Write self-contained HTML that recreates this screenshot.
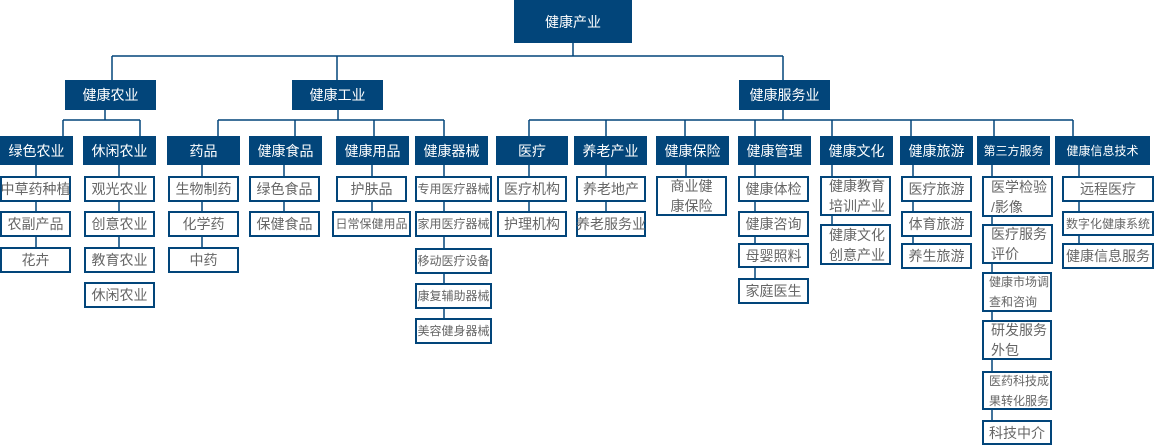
<!DOCTYPE html>
<html><head><meta charset="utf-8">
<style>
html,body{margin:0;padding:0;background:#fff;}
body{width:1155px;height:446px;position:relative;overflow:hidden;font-family:"Liberation Sans","Noto Sans CJK SC","WenQuanYi Zen Hei",sans-serif;}
svg{position:absolute;left:0;top:0;}
.b{position:absolute;background:#02457a;color:#fff;display:flex;align-items:center;justify-content:center;font-size:14px;white-space:nowrap;box-sizing:border-box;}
.w{position:absolute;border:2px solid #02457a;background:#fff;color:#666;display:flex;align-items:center;justify-content:center;font-size:14px;white-space:nowrap;box-sizing:border-box;line-height:20px;}
.w2{justify-content:flex-start;padding-left:7px;white-space:nowrap;text-align:left;}
.c{justify-content:center;text-align:center;white-space:nowrap;}
.s{font-size:12px;}
.w2.s{padding-left:5px;}
</style></head><body>
<svg width="1155" height="446" viewBox="0 0 1155 446">
<g stroke="#02457a" stroke-width="1.5" fill="none">
<line x1="573" y1="43" x2="573" y2="56"/>
<line x1="112" y1="56" x2="783" y2="56"/>
<line x1="112" y1="56" x2="112" y2="80"/>
<line x1="337" y1="56" x2="337" y2="80"/>
<line x1="783" y1="56" x2="783" y2="80"/>
<line x1="105" y1="110" x2="105" y2="120"/>
<line x1="63" y1="120" x2="140" y2="120"/>
<line x1="63" y1="120" x2="63" y2="136"/>
<line x1="140" y1="120" x2="140" y2="136"/>
<line x1="338" y1="110" x2="338" y2="120"/>
<line x1="218" y1="120" x2="444" y2="120"/>
<line x1="218" y1="120" x2="218" y2="136"/>
<line x1="295" y1="120" x2="295" y2="136"/>
<line x1="374" y1="120" x2="374" y2="136"/>
<line x1="444" y1="120" x2="444" y2="136"/>
<line x1="783" y1="110" x2="783" y2="120"/>
<line x1="529" y1="120" x2="1073" y2="120"/>
<line x1="529" y1="120" x2="529" y2="136"/>
<line x1="606" y1="120" x2="606" y2="136"/>
<line x1="685" y1="120" x2="685" y2="136"/>
<line x1="755" y1="120" x2="755" y2="136"/>
<line x1="832" y1="120" x2="832" y2="136"/>
<line x1="911" y1="120" x2="911" y2="136"/>
<line x1="994" y1="120" x2="994" y2="136"/>
<line x1="1073" y1="120" x2="1073" y2="136"/>
<line x1="36" y1="165" x2="36" y2="247"/>
<line x1="119" y1="165" x2="119" y2="247"/>
<line x1="202" y1="165" x2="202" y2="247"/>
<line x1="284" y1="165" x2="284" y2="211"/>
<line x1="372" y1="165" x2="372" y2="211"/>
<line x1="444" y1="165" x2="444" y2="318"/>
<line x1="529" y1="165" x2="529" y2="211"/>
<line x1="606" y1="165" x2="606" y2="211"/>
<line x1="686" y1="165" x2="686" y2="176"/>
<line x1="755" y1="165" x2="755" y2="278"/>
<line x1="832" y1="165" x2="832" y2="224"/>
<line x1="913" y1="165" x2="913" y2="243"/>
<line x1="992" y1="165" x2="992" y2="420"/>
<line x1="1079" y1="165" x2="1079" y2="243"/>
</g>
</svg>

<!-- level 1 -->
<div class="b" style="left:514px;top:0;width:118px;height:43px;">健康产业</div>

<!-- level 2 -->
<div class="b" style="left:65px;top:80px;width:91px;height:30px;">健康农业</div>
<div class="b" style="left:292px;top:80px;width:91px;height:30px;">健康工业</div>
<div class="b" style="left:739px;top:80px;width:91px;height:30px;">健康服务业</div>

<!-- level 3 -->
<div class="b" style="left:0;top:136px;width:73px;height:29px;">绿色农业</div>
<div class="b" style="left:83px;top:136px;width:73px;height:29px;">休闲农业</div>
<div class="b" style="left:167px;top:136px;width:73px;height:29px;">药品</div>
<div class="b" style="left:249px;top:136px;width:73px;height:29px;">健康食品</div>
<div class="b" style="left:336px;top:136px;width:73px;height:29px;">健康用品</div>
<div class="b" style="left:415px;top:136px;width:73px;height:29px;">健康器械</div>
<div class="b" style="left:496px;top:136px;width:72px;height:29px;">医疗</div>
<div class="b" style="left:574px;top:136px;width:73px;height:29px;">养老产业</div>
<div class="b" style="left:656px;top:136px;width:73px;height:29px;">健康保险</div>
<div class="b" style="left:738px;top:136px;width:73px;height:29px;">健康管理</div>
<div class="b" style="left:820px;top:136px;width:73px;height:29px;">健康文化</div>
<div class="b" style="left:900px;top:136px;width:73px;height:29px;">健康旅游</div>
<div class="b s" style="left:977px;top:136px;width:73px;height:29px;">第三方服务</div>
<div class="b s" style="left:1055px;top:136px;width:95px;height:29px;">健康信息技术</div>

<!-- level 4 : 绿色农业 -->
<div class="w" style="left:0;top:176px;width:71px;height:26px;">中草药种植</div>
<div class="w" style="left:0;top:211px;width:71px;height:26px;">农副产品</div>
<div class="w" style="left:0;top:247px;width:71px;height:26px;">花卉</div>
<!-- 休闲农业 -->
<div class="w" style="left:84px;top:176px;width:71px;height:26px;">观光农业</div>
<div class="w" style="left:84px;top:211px;width:71px;height:26px;">创意农业</div>
<div class="w" style="left:84px;top:247px;width:71px;height:26px;">教育农业</div>
<div class="w" style="left:84px;top:282px;width:71px;height:26px;">休闲农业</div>
<!-- 药品 -->
<div class="w" style="left:168px;top:176px;width:71px;height:26px;">生物制药</div>
<div class="w" style="left:168px;top:211px;width:71px;height:26px;">化学药</div>
<div class="w" style="left:168px;top:247px;width:71px;height:26px;">中药</div>
<!-- 健康食品 -->
<div class="w" style="left:249px;top:176px;width:71px;height:26px;">绿色食品</div>
<div class="w" style="left:249px;top:211px;width:71px;height:26px;">保健食品</div>
<!-- 健康用品 -->
<div class="w" style="left:336px;top:176px;width:71px;height:26px;">护肤品</div>
<div class="w s" style="left:332px;top:211px;width:79px;height:26px;">日常保健用品</div>
<!-- 健康器械 -->
<div class="w s" style="left:415px;top:176px;width:77px;height:26px;">专用医疗器械</div>
<div class="w s" style="left:415px;top:211px;width:77px;height:26px;">家用医疗器械</div>
<div class="w s" style="left:415px;top:248px;width:77px;height:26px;">移动医疗设备</div>
<div class="w s" style="left:415px;top:283px;width:77px;height:26px;">康复辅助器械</div>
<div class="w s" style="left:415px;top:318px;width:77px;height:26px;">美容健身器械</div>
<!-- 医疗 -->
<div class="w" style="left:497px;top:176px;width:70px;height:26px;">医疗机构</div>
<div class="w" style="left:497px;top:211px;width:70px;height:26px;">护理机构</div>
<!-- 养老 -->
<div class="w" style="left:576px;top:176px;width:70px;height:26px;">养老地产</div>
<div class="w" style="left:576px;top:211px;width:70px;height:26px;">养老服务业</div>
<!-- 保险 -->
<div class="w c" style="left:656px;top:176px;width:71px;height:40px;">商业健<br>康保险</div>
<!-- 管理 -->
<div class="w" style="left:738px;top:176px;width:71px;height:26px;">健康体检</div>
<div class="w" style="left:738px;top:211px;width:71px;height:26px;">健康咨询</div>
<div class="w" style="left:738px;top:243px;width:71px;height:25px;">母婴照料</div>
<div class="w" style="left:738px;top:278px;width:71px;height:26px;">家庭医生</div>
<!-- 文化 -->
<div class="w w2" style="left:820px;top:176px;width:71px;height:40px;">健康教育<br>培训产业</div>
<div class="w w2" style="left:820px;top:224px;width:71px;height:41px;">健康文化<br>创意产业</div>
<!-- 旅游 -->
<div class="w" style="left:901px;top:176px;width:71px;height:26px;">医疗旅游</div>
<div class="w" style="left:901px;top:211px;width:71px;height:26px;">体育旅游</div>
<div class="w" style="left:901px;top:243px;width:71px;height:26px;">养生旅游</div>
<!-- 第三方服务 -->
<div class="w w2" style="left:982px;top:176px;width:71px;height:41px;">医学检验<br>/影像</div>
<div class="w w2" style="left:982px;top:224px;width:71px;height:40px;">医疗服务<br>评价</div>
<div class="w w2 s" style="left:982px;top:272px;width:70px;height:40px;line-height:20px;">健康市场调<br>查和咨询</div>
<div class="w w2" style="left:982px;top:320px;width:70px;height:40px;">研发服务<br>外包</div>
<div class="w w2 s" style="left:982px;top:371px;width:70px;height:39px;line-height:20px;">医药科技成<br>果转化服务</div>
<div class="w" style="left:982px;top:420px;width:70px;height:25px;">科技中介</div>
<!-- 信息技术 -->
<div class="w" style="left:1062px;top:176px;width:92px;height:26px;">远程医疗</div>
<div class="w s" style="left:1062px;top:211px;width:92px;height:25px;">数字化健康系统</div>
<div class="w" style="left:1062px;top:243px;width:92px;height:26px;">健康信息服务</div>
</body></html>
